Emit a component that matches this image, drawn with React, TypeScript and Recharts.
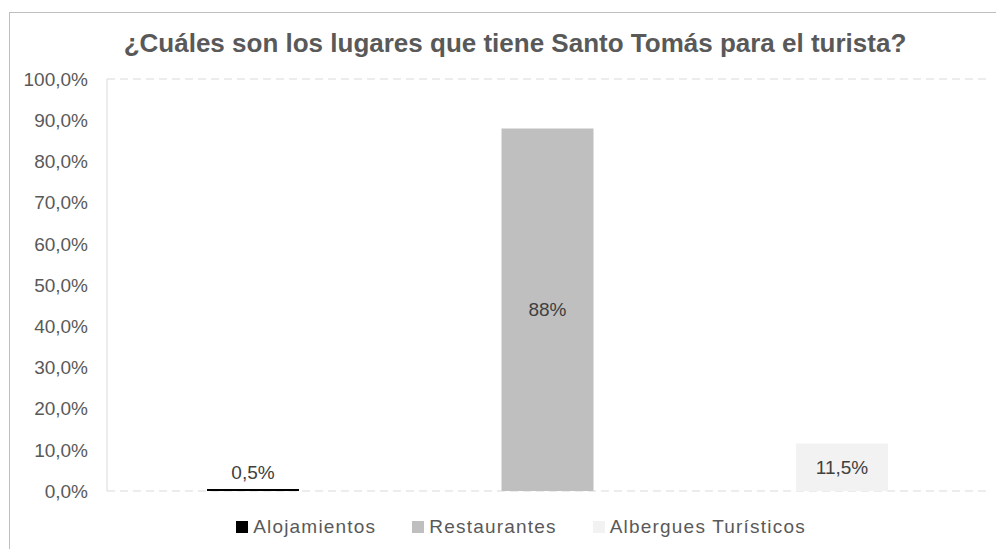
import React from 'react';
import { BarChart, Bar, XAxis, YAxis, CartesianGrid, Legend, LabelList } from 'recharts';

const titleText = '¿Cuáles son los lugares que tiene Santo Tomás para el turista?';
const categories = [''];
const seriesNames = ['Alojamientos', 'Restaurantes', 'Albergues Turísticos'];
const seriesValues = [0.5, 88, 11.5];
const seriesLabels = ['0,5%', '88%', '11,5%'];
const seriesColors = ['#000000', '#bfbfbf', '#f2f2f2'];
const labelPositions = ['top', 'center', 'center'];
const yTicks = [0, 10, 20, 30, 40, 50, 60, 70, 80, 90, 100];

const data = categories.map((c) => {
  const row: Record<string, any> = { name: c };
  seriesNames.forEach((s, i) => {
    row[s] = seriesValues[i];
  });
  return row;
});

const FONT = '"Liberation Sans", Arial, sans-serif';

const fmtTick = (v: number) => v.toFixed(1).replace('.', ',') + '%';

const LegendContent = (props: any) => {
  const payload = [...(props.payload || [])].sort(
    (a: any, b: any) => seriesNames.indexOf(a.value) - seriesNames.indexOf(b.value)
  );
  return (
    <div style={{ display: 'flex', justifyContent: 'center', alignItems: 'center', fontFamily: FONT }}>
      {payload.map((p: any, i: number) => (
        <div key={i} style={{ display: 'flex', alignItems: 'center', marginRight: i < payload.length - 1 ? 36 : 0 }}>
          <span style={{ display: 'inline-block', width: 12, height: 12, background: p.color, marginRight: 5 }} />
          <span style={{ fontSize: 19, color: '#595959', letterSpacing: 1.2 }}>{p.value}</span>
        </div>
      ))}
    </div>
  );
};

export default function App() {
  return (
    <div style={{ position: 'absolute', left: 0, top: 0, width: 996, height: 549, overflow: 'hidden', background: '#fff' }}>
      <div
        style={{
          position: 'absolute',
          left: 9,
          top: 12,
          width: 1100,
          height: 700,
          borderTop: '1px solid #bfbfbf',
          borderLeft: '1px solid #bfbfbf',
        }}
      />
      <div
        style={{
          position: 'absolute',
          left: 0,
          top: 30,
          width: 1030,
          textAlign: 'center',
          fontFamily: FONT,
          fontWeight: 'bold',
          fontSize: 26,
          lineHeight: '26px',
          color: '#595959',
        }}
      >
        {titleText}
      </div>
      <div style={{ position: 'absolute', left: 0, top: 0 }}>
        <BarChart
          width={996}
          height={549}
          data={data}
          margin={{ top: 79, right: 8, bottom: 58, left: 0 }}
          barSize={92}
          barGap={202.5}
          style={{ fontFamily: FONT }}
        >
          <CartesianGrid vertical={false} stroke="#d9d9d9" strokeDasharray="8 5" />
          <XAxis dataKey="name" hide />
          <YAxis
            yAxisId="left"
            domain={[0, 100]}
            ticks={yTicks}
            tickFormatter={fmtTick}
            width={107}
            tickLine={false}
            axisLine={{ stroke: '#d9d9d9' }}
            tickMargin={13}
            tick={{ fill: '#595959', fontSize: 19 }}
            interval={0}
          />
          <YAxis
            yAxisId="right"
            orientation="right"
            domain={[0, 100]}
            width={0}
            tick={false}
            tickLine={false}
            axisLine={{ stroke: '#d9d9d9' }}
          />
          <Legend
            layout="horizontal"
            verticalAlign="middle"
            align="center"
            content={LegendContent}
            wrapperStyle={{ position: 'absolute', left: 0, top: 516, width: 1042, height: 24 }}
          />
          {seriesNames.map((s, i) => (
            <Bar key={s} yAxisId="left" dataKey={s} name={s} fill={seriesColors[i]} isAnimationActive={false}>
              <LabelList
                dataKey={s}
                position={labelPositions[i] as any}
                offset={10}
                formatter={() => seriesLabels[i]}
                fill="#404040"
                fontSize={19}
              />
            </Bar>
          ))}
        </BarChart>
      </div>
    </div>
  );
}
